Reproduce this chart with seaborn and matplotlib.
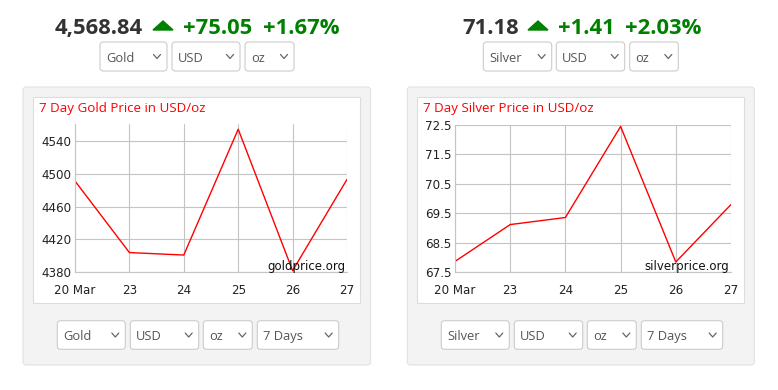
import matplotlib.pyplot as plt
import seaborn as sns
from matplotlib.patches import FancyBboxPatch, Polygon

# chart data
days = ["20 Mar", "23", "24", "25", "26", "27"]
gold_prices = [4491, 4404, 4401, 4554, 4382, 4493]
silver_prices = [67.87, 69.12, 69.36, 72.45, 67.85, 69.8]
gold_ticks = [4380, 4420, 4460, 4500, 4540]
silver_ticks = [67.5, 68.5, 69.5, 70.5, 71.5, 72.5]

# header quotes
gold_quote = ["4,568.84", "+75.05", "+1.67%"]
silver_quote = ["71.18", "+1.41", "+2.03%"]

W, H = 778, 390
GREEN = "#008000"
GRID = "#c4c4c4"

fig = plt.figure(figsize=(W / 100, H / 100), dpi=100)
sns.set_style("white")

bg = fig.add_axes([0, 0, 1, 1], zorder=0)
bg.set_xlim(0, W)
bg.set_ylim(H, 0)
bg.axis("off")


def box(x0, y0, x1, y1, fc, ec, r):
    bg.add_patch(FancyBboxPatch((x0 + r, y0 + r), x1 - x0 - 2 * r, y1 - y0 - 2 * r,
                                boxstyle=f"round,pad={r}", fc=fc, ec=ec, lw=0.8))


def dropdown(x0, y0, x1, y1, label):
    box(x0, y0, x1, y1, "white", "#cccccc", 3.5)
    cy = (y0 + y1) / 2
    bg.text(x0 + 6, cy + 5, label, fontsize=9.3, color="#555555", va="baseline",
            ha="left", family="Open Sans")
    cx = x1 - 10
    bg.plot([cx - 3.5, cx, cx + 3.5], [cy - 2, cy + 2, cy - 2], color="#666666", lw=0.9)


def header(x, parts, tri_x, gaps):
    bg.text(x, 34, parts[0], fontsize=15.8, fontweight="bold", color="#333333",
            family="Open Sans", va="baseline")
    bg.add_patch(Polygon([(tri_x, 30), (tri_x + 10, 21), (tri_x + 20, 30)], color=GREEN))
    bg.text(gaps[0], 34, parts[1], fontsize=15.8, fontweight="bold", color=GREEN,
            family="Open Sans", va="baseline")
    bg.text(gaps[1], 34, parts[2], fontsize=15.8, fontweight="bold", color=GREEN,
            family="Open Sans", va="baseline")


def chart(rect, values, ticks, ylim, title, title_x, mark):
    l, t, r, b = rect
    ax = fig.add_axes([l / W, 1 - b / H, (r - l) / W, (b - t) / H], zorder=1)
    sns.lineplot(x=days, y=values, ax=ax, color="red", lw=1, sort=False)
    ax.set_xlim(0, len(days) - 1)
    ax.set_ylim(*ylim)
    ax.set_yticks(ticks)
    ax.set_yticklabels([f"{v:g}" for v in ticks])
    ax.set_xlabel("")
    ax.set_ylabel("")
    ax.grid(True, color=GRID, lw=0.8)
    ax.set_axisbelow(True)
    for s in ["top", "right"]:
        ax.spines[s].set_visible(False)
    for s in ["left", "bottom"]:
        ax.spines[s].set_color(GRID)
        ax.spines[s].set_linewidth(0.8)
    ax.tick_params(axis="both", width=0.8, color=GRID, labelsize=8.6,
                   labelcolor="#222222")
    ax.tick_params(axis="y", length=1.8, pad=0.8)
    ax.tick_params(axis="x", length=5.8, pad=2.8)
    ax.text(0.993, 0.016, mark, transform=ax.transAxes, ha="right", va="baseline",
            fontsize=8.5, color="#111111")
    bg.text(title_x, 112, title, color="red", fontsize=9.6, family="Open Sans",
            va="baseline")
    return ax


# gold side
header(55, gold_quote, 153, [183, 263])
dropdown(100, 42, 167, 71, "Gold")
dropdown(172, 42, 240, 71, "USD")
dropdown(245, 42, 294, 71, "oz")
box(23, 87, 370.5, 365, "#f3f3f3", "#e2e2e2", 3)
bg.add_patch(plt.Rectangle((33, 97), 327, 206, fc="white", ec="#dddddd", lw=0.8))
chart((75, 124.3, 347, 272.3), gold_prices, gold_ticks, (4380, 4560),
      "7 Day Gold Price in USD/oz", 39.3, "goldprice.org")
dropdown(57.3, 320.7, 125.3, 349.3, "Gold")
dropdown(130.3, 320.7, 198.7, 349.3, "USD")
dropdown(203.3, 320.7, 252.3, 349.3, "oz")
dropdown(257.3, 320.7, 338.7, 349.3, "7 Days")

# silver side
header(462, silver_quote, 528, [558, 625])
dropdown(483.3, 42, 551.7, 71, "Silver")
dropdown(556.3, 42, 624.7, 71, "USD")
dropdown(629.7, 42, 678.3, 71, "oz")
box(407.3, 87, 754.3, 365, "#f3f3f3", "#e2e2e2", 3)
bg.add_patch(plt.Rectangle((417.3, 97), 327, 206, fc="white", ec="#dddddd", lw=0.8))
chart((455, 125, 731, 272.3), silver_prices, silver_ticks, (67.5, 72.5),
      "7 Day Silver Price in USD/oz", 423.3, "silverprice.org")
dropdown(441.3, 320.7, 509.3, 349.3, "Silver")
dropdown(514.3, 320.7, 582.7, 349.3, "USD")
dropdown(587.3, 320.7, 636.3, 349.3, "oz")
dropdown(641.3, 320.7, 722.7, 349.3, "7 Days")

fig.savefig("out.png", dpi=100)
